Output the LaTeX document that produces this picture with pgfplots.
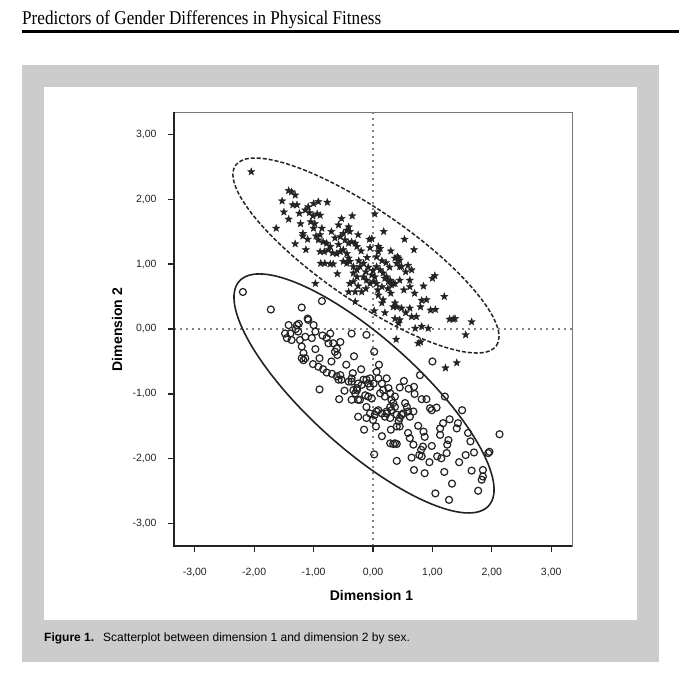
\documentclass[border=0pt]{standalone}
\usepackage{fontspec}
\setmainfont{Liberation Serif}
\setsansfont{Liberation Sans}
\usepackage{graphicx}
\usepackage{pgfplots}
\usepackage{pgfplotstable}
\pgfplotsset{compat=1.18}

\definecolor{boxgray}{RGB}{204,204,204}
\definecolor{refgray}{RGB}{130,130,130}
\definecolor{framegray}{RGB}{120,120,120}
\definecolor{ink}{RGB}{35,35,35}

% filled five-point star
\pgfdeclareplotmark{fstar}{%
  \pgfpathmoveto{\pgfpointpolar{90}{\pgfplotmarksize}}%
  \pgfpathlineto{\pgfpointpolar{126}{0.42\pgfplotmarksize}}%
  \pgfpathlineto{\pgfpointpolar{162}{\pgfplotmarksize}}%
  \pgfpathlineto{\pgfpointpolar{198}{0.42\pgfplotmarksize}}%
  \pgfpathlineto{\pgfpointpolar{234}{\pgfplotmarksize}}%
  \pgfpathlineto{\pgfpointpolar{270}{0.42\pgfplotmarksize}}%
  \pgfpathlineto{\pgfpointpolar{306}{\pgfplotmarksize}}%
  \pgfpathlineto{\pgfpointpolar{342}{0.42\pgfplotmarksize}}%
  \pgfpathlineto{\pgfpointpolar{18}{\pgfplotmarksize}}%
  \pgfpathlineto{\pgfpointpolar{54}{0.42\pgfplotmarksize}}%
  \pgfpathclose
  \pgfusepathqfillstroke
}

% stars (upper group)
\pgfplotstableread{
x y
-2.05 2.42
-1.53 1.97
-1.42 2.13
-1.37 2.11
-1.31 2.06
-1.35 1.91
-1.28 1.91
-1.63 1.55
-1.42 1.69
-1.31 1.31
-1.18 1.47
-1.18 1.43
-1.13 1.22
-1.14 1.83
-1.09 1.88
-1.00 1.93
-0.92 1.96
-0.77 1.95
-1.07 1.79
-1.01 1.74
-0.94 1.77
-0.89 1.75
-1.05 1.65
-1.00 1.55
-0.86 1.55
-0.89 1.45
-0.96 1.43
-0.92 1.37
-0.84 1.34
-0.78 1.32
-0.72 1.27
-0.89 1.19
-0.82 1.19
-0.75 1.22
-0.88 1.01
-0.81 1.01
-0.72 1.00
-0.67 1.00
-0.60 0.85
-0.68 1.17
-0.61 1.16
-0.55 1.19
-0.53 1.70
-0.35 1.74
-0.55 1.42
-0.50 1.47
-0.44 1.52
-0.41 1.57
-0.39 1.50
-0.47 1.37
-0.41 1.32
-0.36 1.34
-0.30 1.32
-0.27 1.27
-0.50 1.22
-0.44 1.16
-0.41 1.09
-0.39 1.04
-0.44 1.01
-0.50 1.04
-0.33 0.96
-0.27 0.91
-0.22 0.96
-0.16 1.01
-0.33 0.86
-0.27 0.80
-0.33 0.73
-0.39 0.70
-0.41 0.57
-0.30 0.57
-0.19 0.57
0.03 1.77
0.18 1.50
-0.06 1.38
-0.02 1.39
0.09 1.27
0.12 1.24
0.06 1.11
0.09 1.19
-0.16 0.80
-0.11 0.75
-0.05 0.70
0.01 0.73
0.03 0.80
-0.02 0.83
0.06 0.96
0.12 0.91
0.17 0.86
0.23 0.80
0.29 0.75
0.34 0.70
0.09 0.52
0.17 0.45
0.15 0.40
0.02 0.28
-0.30 0.42
-0.97 0.70
0.37 1.09
0.43 1.09
0.40 1.01
0.45 0.96
0.34 0.34
0.37 0.16
0.43 0.09
0.53 1.38
0.69 1.22
0.41 1.11
0.45 1.06
0.48 0.96
0.59 0.98
0.65 0.91
0.20 0.78
0.26 0.73
0.31 0.68
0.37 0.70
0.45 0.75
0.06 0.70
0.15 0.65
0.62 0.75
0.62 0.65
0.85 0.66
1.00 0.78
1.04 0.82
1.20 0.50
0.97 0.29
0.82 0.44
0.80 0.34
0.62 0.32
0.65 0.19
0.73 0.19
0.71 0.01
0.37 0.40
0.40 0.34
0.48 0.32
0.45 0.14
0.82 0.04
0.93 0.01
1.29 0.15
1.35 0.15
1.38 0.16
1.66 0.11
1.56 -0.09
0.39 -0.16
0.76 -0.22
0.80 -0.20
1.22 -0.60
1.41 -0.52
-0.24 1.05
-0.12 0.88
-0.08 0.95
0.00 0.90
0.22 1.02
0.28 0.95
-0.58 1.30
-0.64 1.40
-0.70 1.50
-1.22 1.62
-1.24 1.78
-0.98 1.62
-1.10 1.38
-0.20 1.20
-0.10 1.10
0.15 1.05
0.25 0.62
0.52 0.60
0.55 0.88
0.30 0.55
-0.12 0.62
-0.25 0.66
0.08 0.60
0.70 0.55
0.90 0.45
1.05 0.30
0.55 0.25
0.20 0.25
-0.05 1.25
0.30 1.20
-1.50 1.80
-0.58 1.60
-0.25 1.45
}\stardata

% circles (lower group)
\pgfplotstableread{
x y
-2.19 0.57
-1.72 0.30
-1.20 0.33
-0.86 0.43
-1.42 0.06
-1.28 0.06
-1.26 -0.04
-1.39 -0.07
-1.48 -0.07
-1.45 -0.14
-1.37 -0.17
-1.10 0.16
-1.09 0.14
-1.00 0.06
-0.97 -0.04
-1.03 -0.14
-1.14 -0.12
-1.23 -0.17
-1.20 -0.27
-1.17 -0.37
-1.14 -0.45
-1.20 -0.45
-1.17 -0.48
-0.97 -0.31
-0.78 -0.14
-0.72 -0.07
-0.67 -0.22
-0.61 -0.30
-0.55 -0.20
-0.75 -0.22
-0.64 -0.35
-0.60 -0.40
-0.36 -0.07
-0.11 -0.09
-0.32 -0.42
0.02 -0.35
-1.01 -0.54
-0.92 -0.58
-0.84 -0.62
-0.78 -0.67
-0.69 -0.69
-0.61 -0.73
-0.55 -0.71
-0.53 -0.78
-0.58 -0.78
-0.90 -0.93
-0.57 -1.08
-0.41 -0.81
-0.36 -0.76
-0.33 -0.94
-0.27 -0.91
-0.22 -1.09
-0.19 -0.86
-0.16 -0.78
-0.11 -0.78
-0.05 -0.76
0.06 -0.66
0.09 -0.76
0.01 -0.84
0.15 -0.84
0.23 -0.76
0.17 -0.94
0.12 -0.99
0.20 -1.04
0.29 -0.99
0.26 -0.91
0.31 -1.09
0.37 -1.04
-0.11 -1.20
-0.05 -1.30
0.03 -1.32
0.09 -1.25
0.15 -1.30
0.20 -1.35
0.23 -1.27
0.29 -1.20
0.34 -1.14
0.05 -1.50
0.02 -1.93
0.29 -1.76
0.34 -1.77
0.40 -1.77
0.40 -2.03
0.43 -1.42
0.40 -1.50
1.00 -0.50
0.79 -0.71
0.69 -0.89
1.21 -1.04
0.82 -1.08
0.90 -1.08
0.96 -1.22
0.99 -1.25
1.07 -1.21
1.29 -1.39
1.18 -1.45
1.13 -1.53
1.13 -1.63
1.43 -1.45
1.41 -1.53
2.13 -1.62
1.27 -1.71
1.25 -1.78
1.24 -1.91
1.15 -1.99
1.08 -1.96
1.64 -1.73
1.56 -1.94
1.96 -1.89
1.94 -1.91
1.66 -2.18
1.85 -2.17
1.85 -2.27
1.83 -2.32
1.77 -2.49
1.33 -2.38
1.05 -2.53
1.28 -2.63
0.87 -2.22
0.69 -2.17
0.65 -1.98
0.68 -1.78
0.81 -1.86
0.84 -1.81
0.99 -1.80
0.76 -1.49
0.85 -1.58
0.87 -1.66
0.45 -1.50
0.59 -1.60
0.62 -1.68
0.54 -1.14
0.57 -1.20
0.51 -1.30
0.59 -1.27
0.62 -1.35
0.45 -1.37
0.48 -1.32
0.68 -1.27
0.37 -1.20
0.31 -1.25
0.23 -1.30
0.29 -1.37
0.40 -1.32
-0.25 -0.84
-0.27 -0.94
-0.13 -1.02
-0.08 -1.04
-0.02 -1.07
-0.08 -0.84
-0.05 -0.89
-0.34 -0.68
-0.36 -0.81
-0.30 -0.99
-0.36 -1.09
-0.25 -1.09
0.00 -1.40
0.06 -1.27
-0.11 -1.37
0.37 -1.76
0.78 -1.94
0.82 -1.96
0.52 -0.80
0.60 -0.92
0.45 -0.90
0.70 -1.00
-0.45 -0.55
-0.20 -0.62
0.10 -0.55
-0.48 -0.95
1.50 -1.25
1.60 -1.60
1.70 -1.90
1.45 -2.05
0.95 -2.05
1.20 -2.20
0.30 -1.55
-0.15 -1.55
-0.25 -1.35
0.15 -1.65
-1.30 0.00
-1.25 0.08
-0.85 -0.10
-0.90 -0.45
-0.70 -0.50
}\circdata

\begin{document}
\begin{tikzpicture}
  % page background, header, rule, figure frame
  \path[use as bounding box, fill=white] (0pt,0pt) rectangle (679pt,680pt);
  \node[anchor=base west, inner sep=0pt] at (22pt,655pt)
    {\resizebox{359pt}{\height}{\fontsize{19.5pt}{20pt}\selectfont Predictors of Gender Differences in Physical Fitness}};
  \fill[black] (22pt,647.3pt) rectangle (679pt,649.5pt);
  \fill[boxgray] (22pt,18pt) rectangle (659pt,614.5pt);
  \fill[white] (44pt,59.5pt) rectangle (637pt,592.5pt);
  \node[anchor=base west, inner sep=0pt, font=\sffamily\bfseries\fontsize{12pt}{14pt}\selectfont]
    at (44pt,38pt) {Figure 1.};
  \node[anchor=base west, inner sep=0pt, font=\sffamily\fontsize{12pt}{14pt}\selectfont]
    at (103pt,38pt) {Scatterplot between dimension 1 and dimension 2 by sex.};

  \begin{axis}[
    at={(174pt,134pt)}, anchor=south west,
    scale only axis, width=398pt, height=434pt,
    xmin=-3.35, xmax=3.35, ymin=-3.34, ymax=3.34,
    xtick={-3,-2,-1,0,1,2,3}, ytick={-3,-2,-1,0,1,2,3},
    xticklabels={{-3,00},{-2,00},{-1,00},{0,00},{1,00},{2,00},{3,00}},
    yticklabels={{-3,00},{-2,00},{-1,00},{0,00},{1,00},{2,00},{3,00}},
    tick align=outside, tick pos=left, major tick length=6pt,
    tick style={ink, line width=1.1pt},
    axis line style={framegray, line width=0.8pt},
    ticklabel style={font=\sffamily\fontsize{10.5pt}{12pt}\selectfont, text=ink},
    xticklabel style={yshift=-13pt},
    yticklabel style={xshift=-8pt},
    xlabel={Dimension 1}, ylabel={Dimension 2},
    label style={font=\sffamily\bfseries\fontsize{14pt}{16pt}\selectfont, text=black},
    xlabel style={at={(axis description cs:0.4962,-0.1129)}, anchor=center},
    ylabel style={at={(axis description cs:-0.1432,0.4988)}, anchor=center},
    clip=false,
  ]
    % dotted reference lines through the origin
    \draw[refgray, line width=1.6pt, dash pattern=on 1.8pt off 4.2pt]
      (axis cs:0,-3.34) -- (axis cs:0,3.34);
    \draw[refgray, line width=1.6pt, dash pattern=on 1.8pt off 4.2pt]
      (axis cs:-3.35,0) -- (axis cs:3.35,0);
    % left and bottom axis lines are darker than the frame
    \draw[ink, line width=1.4pt] (rel axis cs:0,1) -- (rel axis cs:0,0) -- (rel axis cs:1,0);

    \addplot[only marks, mark=o, mark size=3.5pt,
      mark options={draw=ink, line width=1.2pt}] table {\circdata};
    \addplot[only marks, mark=fstar, mark size=3.9pt,
      mark options={fill=ink, draw=ink, line width=0.3pt}] table {\stardata};

    \coordinate (ef) at (axis cs:-0.118,1.131);
    \coordinate (em) at (axis cs:-0.151,-0.992);
  \end{axis}

  % group ellipses
  \draw[ink, line width=1.5pt, dash pattern=on 4pt off 2pt, rotate around={-34.6:(ef)}]
    (ef) ellipse [x radius=158.6pt, y radius=45.3pt];
  \draw[ink, line width=1.6pt, rotate around={-42:(em)}]
    (em) ellipse [x radius=167.8pt, y radius=55pt];
\end{tikzpicture}
\end{document}
